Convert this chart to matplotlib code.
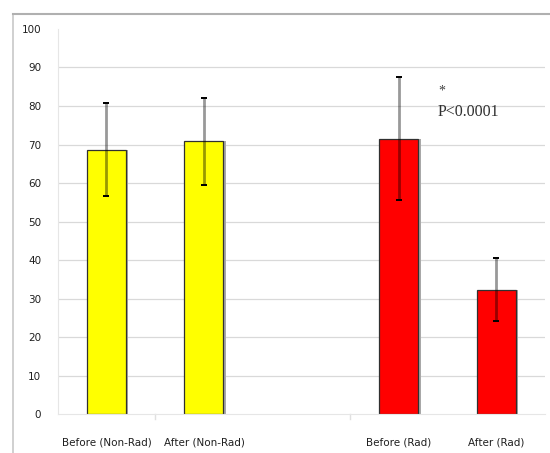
import matplotlib
matplotlib.use('Agg')
import matplotlib.pyplot as plt
from matplotlib.lines import Line2D

positions = [0, 1, 3, 4]
bar_labels = ['Before (Non-Rad)', 'After (Non-Rad)', 'Before (Rad)', 'After (Rad)']
means = [68.7, 70.8, 71.5, 32.3]
errs = [12.0, 11.4, 16.0, 8.1]
colors = ['#ffff00', '#ffff00', '#ff0000', '#ff0000']

fig = plt.figure(figsize=(5.5, 4.53), dpi=100)
ax = fig.add_axes([0.105, 0.086, 0.886, 0.850])

# outer chart frame (left/top edges visible in the crop)
fig.add_artist(Line2D([13/550, 13/550], [0, 1 - 14/453], color='#c8c8c8', lw=1.2))
fig.add_artist(Line2D([13/550, 1], [1 - 14/453, 1 - 14/453], color='#b0b0b0', lw=1.5))

for y in range(10, 100, 10):
    ax.axhline(y, color='#d9d9d9', lw=0.9, zorder=0)

w = 0.4
# soft shadow on right side of each bar
ax.bar([p + 0.025 for p in positions], means, width=w, color='#a8a8a8', zorder=1)
ax.bar(positions, means, width=w, color=colors, edgecolor='#303030', lw=0.9, zorder=2)
ax.errorbar(positions, means, yerr=errs, fmt='none', ecolor=(0, 0, 0, 0.4),
            elinewidth=2, capsize=0, zorder=3)
tops = [m + e for m, e in zip(means, errs)]
lows = [m - e for m, e in zip(means, errs)]
for ends in (tops, lows):
    ax.errorbar(positions, ends, yerr=0, fmt='none', capsize=2.4,
                ecolor='black', capthick=1.3, zorder=4)

ax.set_xlim(-0.5, 4.5)
ax.set_ylim(0, 100)
ax.set_yticks(range(0, 101, 10))
ax.tick_params(axis='y', length=0, labelsize=7.5, pad=12)
ax.set_xticks(positions)
ax.set_xticklabels(bar_labels, fontsize=7.5)
ax.tick_params(axis='x', length=0, pad=17)
for t in ax.get_xticklabels() + ax.get_yticklabels():
    t.set_color('#202020')
for s in ['top', 'right']:
    ax.spines[s].set_visible(False)
ax.spines['left'].set_color('#e6e6e6')
ax.spines['bottom'].set_color('#e6e6e6')
for xb in [0.5, 2.5]:
    ax.plot([xb, xb], [0, -1.2], color='#e0e0e0', lw=1, clip_on=False)

ax.text(3.41, 83.0, '*', fontsize=10, family='Liberation Serif', color='#404040')
ax.text(3.40, 77.5, 'P<0.0001', fontsize=11.5, family='Liberation Serif', color='#303030')

fig.savefig('out.png', dpi=100)
